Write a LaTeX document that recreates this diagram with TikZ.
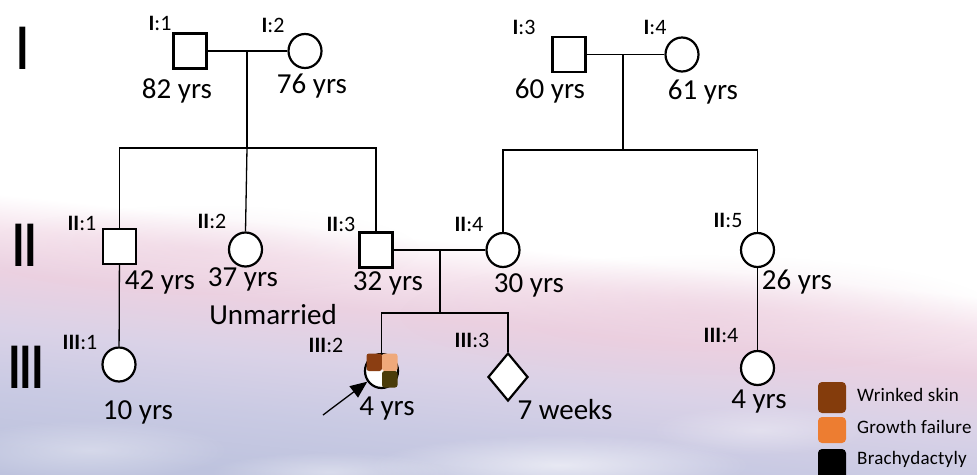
\documentclass[tikz,border=0pt]{standalone}
\usepackage{fontspec}
\setmainfont{Carlito}
\usetikzlibrary{shapes.geometric,arrows.meta,fadings}

\definecolor{skinbrown}{HTML}{843C0C}
\definecolor{growthorange}{HTML}{ED7D31}
\definecolor{quadbrown}{HTML}{8B3E12}
\definecolor{quadpeach}{HTML}{EFA97B}
\definecolor{quadolive}{HTML}{4A3C0A}
\definecolor{skyA}{HTML}{BEC3DE}
\definecolor{skyB}{HTML}{C9CAE3}
\definecolor{skyC}{HTML}{DAD2E7}
\definecolor{skyD}{HTML}{EBD1E1}
\definecolor{skyE}{HTML}{F6E5EE}
\definecolor{skypink}{HTML}{EBCCDD}

% sky backdrop: bottom (25bp) to top (75bp)
\pgfdeclareverticalshading{skyshade}{100bp}{%
  color(0bp)=(skyA); color(25bp)=(skyA); color(30.7bp)=(skyB);
  color(36.5bp)=(skyC); color(41.8bp)=(skyD); color(46bp)=(skyE);
  color(49.2bp)=(white); color(100bp)=(white)}
\tikzfading[name=softblob, inner color=transparent!0, outer color=transparent!100]

\begin{document}
\begin{tikzpicture}[x=1pt,y=-1pt,
  male/.style={draw, fill=white, line width=2.2pt, minimum width=33pt, minimum height=35pt, inner sep=0},
  female/.style={ellipse, draw, fill=white, line width=2.2pt, minimum width=33pt, minimum height=34pt, inner sep=0},
  unknownsex/.style={diamond, draw, fill=white, line width=2.2pt, minimum width=40pt, minimum height=48pt, inner sep=0},
  link/.style={line width=1.3pt},
  age/.style={font=\fontsize{29}{30}\selectfont, inner sep=0},
  pid/.style={font=\fontsize{22}{24}\selectfont, inner sep=0},
  gen/.style={font=\fontsize{66}{66}\selectfont, inner sep=0},
  legbox/.style={rounded corners=4pt},
  legtext/.style={font=\fontsize{19}{20}\selectfont\addfontfeature{LetterSpace=1.2}, anchor=west, inner sep=0}]

\useasboundingbox (0,0) rectangle (977,474);

% backdrop: tilted sky band with a few soft cloud patches
\fill[shading=skyshade, shading angle=-6] (0,0) rectangle (977,474);
\fill[skypink, path fading=softblob, fill opacity=0.5] (700,315) ellipse (300 and 60);
\fill[skypink, path fading=softblob, fill opacity=0.35] (200,250) ellipse (220 and 45);
\fill[white, path fading=softblob, fill opacity=0.6] (560,465) ellipse (190 and 30);
\fill[white, path fading=softblob, fill opacity=0.4] (330,472) ellipse (120 and 20);
\fill[white, path fading=softblob, fill opacity=0.35] (90,450) ellipse (140 and 30);
\fill[white, path fading=softblob, fill opacity=0.35] (760,430) ellipse (110 and 25);

% generation numerals
\node[gen] (gI)   at (23,48.5)  {I};
\node[gen] (gII)  at (25,245.5) {I\kern-4.5pt I};
\node[gen] (gIII) at (26,367)   {I\kern-5pt I\kern-5pt I};

% generation I
\node[male]   (I1) at (190,51)   {};
\node[female] (I2) at (305,51)   {};
\node[male]   (I3) at (569,54.5) {};
\node[female] (I4) at (682,54.5) {};

% generation II
\node[male]   (II1) at (119.5,246.5) {};
\node[female] (II2) at (245.5,249.5) {};
\node[male]   (II3) at (376,250)     {};
\node[female] (II4) at (503,250)     {};
\node[female] (II5) at (757.5,250)   {};

% generation III
\node[female]     (III1) at (119,364.5) {};
\node[female]     (III2) at (381.5,371) {};
\node[unknownsex] (III3) at (508,377)   {};
\node[female]     (III4) at (757.5,368) {};

% affected quadrants of the proband
\fill[quadbrown, rounded corners=2.5pt] (366.5,353.5) rectangle (382,371);
\fill[quadpeach, rounded corners=2.5pt] (382,353.5) rectangle (397.5,371);
\fill[quadolive, rounded corners=2.5pt] (382,371) rectangle (397.5,387.5);

% couples, descent and sibship lines
\coordinate (m1) at (247,51);
\coordinate (s1) at (247,148);
\coordinate (m2) at (623,54.5);
\coordinate (s2) at (623,150);
\coordinate (m3) at (440,250);
\coordinate (s3) at (440,313);
\draw[link] (I1) -- (I2);
\draw[link] (I3) -- (I4);
\draw[link] (II3) -- (II4);
\draw[link] (m1) -- (s1);
\draw[link] (m2) -- (s2);
\draw[link] (m3) -- (s3);
\draw[link] (II1.north) |- (s1) -| (II3.north);
\draw[link] (s1) -- (II2.north);
\draw[link] (II4.north) |- (s2) -| (II5.north);
\draw[link] (III2.north) |- (s3) -| (III3.north);
\draw[link] (II1) -- (III1);
\draw[link] (II5) -- (III4);

% proband arrow
\coordinate (ptail) at (323,415);
\draw[line width=1.3pt, -{Triangle[length=17pt,width=14pt]}] (ptail) -- (III2);

% individual identifiers
\node[pid] (lI1) at (160,23) {\textbf{I}:1};
\node[pid] (lI2) at (273,25) {\textbf{I}:2};
\node[pid] (lI3) at (524,27.5) {\textbf{I}:3};
\node[pid] (lI4) at (655,27.5) {\textbf{I}:4};
\node[pid] (lII1) at (82,223) {\textbf{II}:1};
\node[pid] (lII2) at (212,221) {\textbf{II}:2};
\node[pid] (lII3) at (341,224) {\textbf{II}:3};
\node[pid] (lII4) at (469,224) {\textbf{II}:4};
\node[pid] (lII5) at (728,220) {\textbf{II}:5};
\node[pid] (lIII1) at (80,342) {\textbf{III}:1};
\node[pid] (lIII2) at (326,345) {\textbf{III}:2};
\node[pid] (lIII3) at (472,340) {\textbf{III}:3};
\node[pid] (lIII4) at (721,335) {\textbf{III}:4};

% ages and notes
\node[age] (aI1) at (177,90.5) {82 yrs};
\node[age] (aI2) at (312,86) {76 yrs};
\node[age] (aI3) at (550,91) {60 yrs};
\node[age] (aI4) at (703,92) {61 yrs};
\node[age] (aII1) at (160,282) {42 yrs};
\node[age] (aII2) at (243,279) {37 yrs};
\node[age] (nII2) at (273,315) {Unmarried};
\node[age] (aII3) at (388,283.5) {32 yrs};
\node[age] (aII4) at (529,285) {30 yrs};
\node[age] (aII5) at (797,282) {26 yrs};
\node[age] (aIII1) at (138,412) {10 yrs};
\node[age] (aIII2) at (387,409) {4 yrs};
\node[age] (aIII3) at (565,410) {7 weeks};
\node[age] (aIII4) at (759,402) {4 yrs};

% legend
\fill[skinbrown, legbox] (818,382) rectangle (846,413);
\fill[growthorange, legbox] (818,417) rectangle (846,443);
\fill[black, legbox] (818,449) rectangle (846,480);
\node[legtext] (kI) at (857,395) {Wrinked skin};
\node[legtext] (kII) at (857,427) {Growth failure};
\node[legtext] (kIII) at (857,459) {Brachydactyly};
\end{tikzpicture}
\end{document}
